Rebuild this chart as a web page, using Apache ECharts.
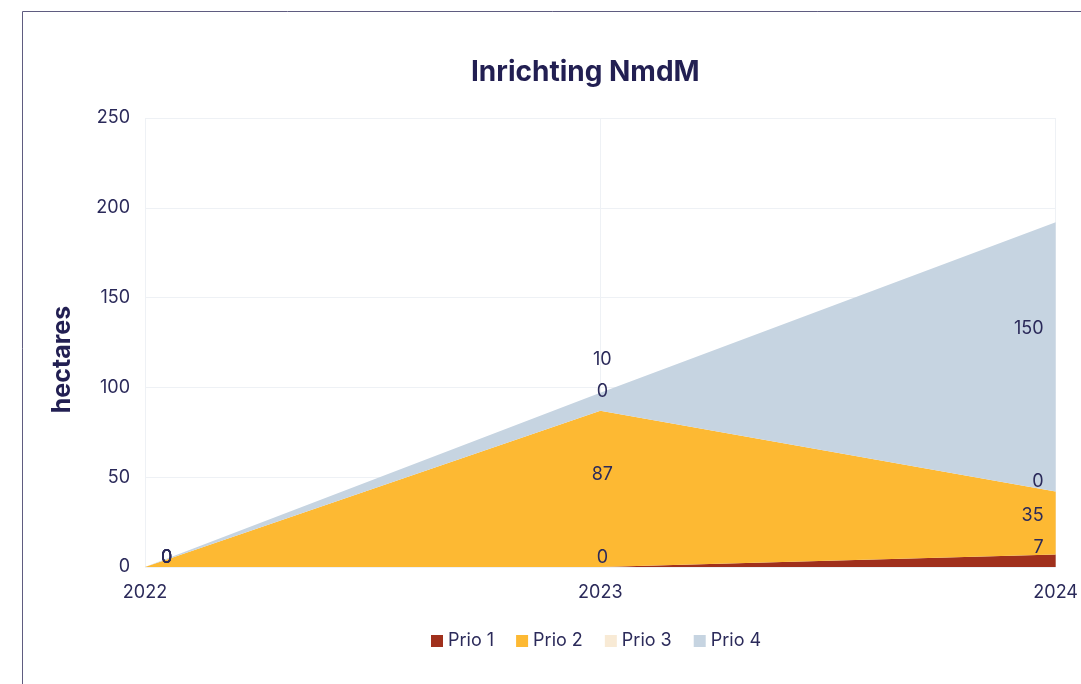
<!DOCTYPE html>
<html><head><meta charset="utf-8">
<script src="https://cdn.jsdelivr.net/npm/echarts@6/dist/echarts.min.js"></script>
<style>html,body{margin:0;padding:0;background:#fff}#c{width:1081px;height:684px}</style>
</head><body><div id="c"></div>
<script>
const categories = ['2022', '2023', '2024'];
const seriesNames = ['Prio 1', 'Prio 2', 'Prio 3', 'Prio 4'];
const prio1 = [0, 0, 7];
const prio2 = [0, 87, 35];
const prio3 = [0, 0, 0];
const prio4 = [0, 10, 150];
const yTicks = [0, 50, 100, 150, 200, 250];

const colors = ['#a0301c', '#fdb933', '#f8ead5', '#c6d4e1'];
// label offsets (style only), per series, per category
const labelOffsets = [
  [[16, -9], [2, -9], [-12, -7]],
  [[16, -9], [2, 64], [-12, 24]],
  [[16, -9], [2, -19], [-12, -10]],
  [[16, -9], [2, -33], [-12, 106]]
];
const textColor = '#2b2a5a';
const font = 'Inter, "Noto Sans", sans-serif';

const values = [prio1, prio2, prio3, prio4];
const series = values.map((vals, si) => ({
  name: seriesNames[si],
  type: 'line',
  stack: 'total',
  symbol: 'circle',
  symbolSize: 0,
  showSymbol: true,
  lineStyle: { width: 0 },
  itemStyle: { color: colors[si] },
  areaStyle: { color: colors[si], opacity: 1 },
  emphasis: { disabled: true },
  data: vals.map((v, i) => ({
    value: v,
    label: {
      show: true,
      position: 'inside',
      offset: labelOffsets[si][i],
      align: i === 2 ? 'right' : (i === 0 ? 'left' : 'center'),
      color: textColor,
      fontSize: 18,
      fontFamily: font
    }
  }))
}));

const chart = echarts.init(document.getElementById('c'), null, { renderer: 'canvas' });
chart.setOption({
  animation: false,
  color: colors,
  title: {
    text: 'Inrichting NmdM',
    left: 466, top: 54,
    textStyle: { fontFamily: font, fontSize: 28, fontWeight: 'bold', color: '#221f52' }
  },
  legend: {
    left: 426, top: 627,
    icon: 'rect', itemWidth: 12, itemHeight: 12, itemGap: 22,
    textStyle: { fontFamily: font, fontSize: 18, color: textColor },
    data: seriesNames
  },
  grid: { left: 145, right: 18, top: 118, bottom: 117 },
  xAxis: {
    type: 'category',
    data: categories,
    boundaryGap: false,
    axisLine: { show: false },
    axisTick: { show: false },
    axisLabel: { color: textColor, fontSize: 18, fontFamily: font, margin: 17 },
    splitLine: { show: true, lineStyle: { color: '#eef1f5', width: 1 } }
  },
  yAxis: {
    type: 'value',
    min: yTicks[0], max: yTicks[yTicks.length - 1], interval: 50,
    name: 'hectares',
    nameLocation: 'middle',
    nameGap: 70,
    nameTextStyle: { fontFamily: font, fontSize: 25, fontWeight: 'bold', color: '#221f52', padding: [0, 34, 0, 0] },
    axisLine: { show: false },
    axisTick: { show: false },
    axisLabel: { color: textColor, fontSize: 18, fontFamily: font, margin: 15 },
    splitLine: { show: true, lineStyle: { color: '#eef1f5', width: 1 } }
  },
  graphic: [
    { type: 'rect', shape: { x: 22.5, y: 11.5, width: 1100, height: 700 }, style: { fill: 'none', stroke: '#5f5c80', lineWidth: 1 }, silent: true }
  ],
  series: series
});
</script></body></html>
